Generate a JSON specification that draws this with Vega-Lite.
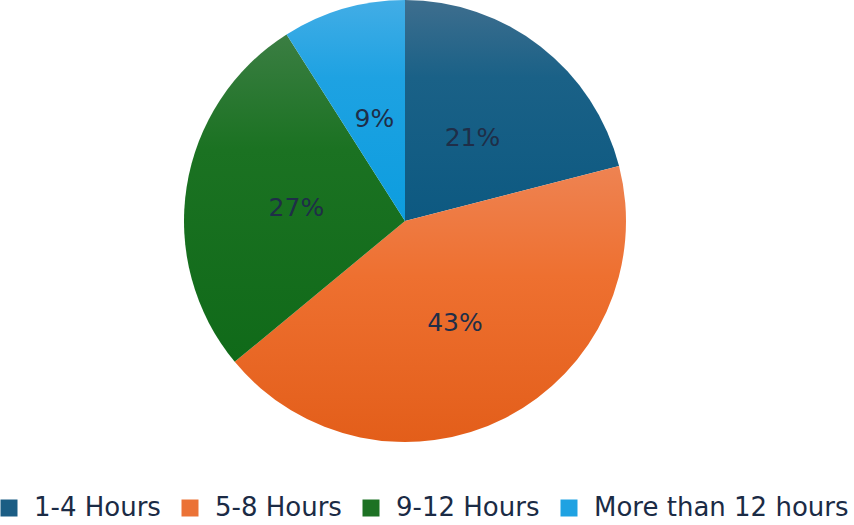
{
  "$schema": "https://vega.github.io/schema/vega-lite/v6.json",
  "width": 810,
  "height": 442,
  "autosize": {"type": "none"},
  "padding": {"left": 0, "top": 0, "right": 44, "bottom": 83},
  "background": "white",
  "config": {"view": {"stroke": null}, "font": "DejaVu Sans"},
  "data": {
    "values": [
      {"category": "1-4 Hours", "value": 21, "order": 1},
      {"category": "5-8 Hours", "value": 43, "order": 2},
      {"category": "9-12 Hours", "value": 27, "order": 3},
      {"category": "More than 12 hours", "value": 9, "order": 4}
    ]
  },
  "transform": [
    {"stack": "value", "groupby": [], "sort": [{"field": "order"}], "as": ["v0", "v1"]}
  ],
  "layer": [
    {
      "mark": {"type": "arc", "outerRadius": 221, "opacity": 0},
      "encoding": {
        "theta": {"field": "value", "type": "quantitative", "stack": true, "scale": {"domain": [0, 100]}},
        "order": {"field": "order", "type": "quantitative"},
        "color": {
          "field": "category",
          "type": "nominal",
          "sort": ["1-4 Hours", "5-8 Hours", "9-12 Hours", "More than 12 hours"],
          "scale": {
            "domain": ["1-4 Hours", "5-8 Hours", "9-12 Hours", "More than 12 hours"],
            "range": ["#1b5d84", "#eb7236", "#1d7224", "#1fa2e2"]
          },
          "legend": {
            "orient": "none",
            "legendX": -4,
            "legendY": 495,
            "padding": 0,
            "direction": "horizontal",
            "title": null,
            "symbolType": "square",
            "symbolSize": 289,
            "symbolStrokeWidth": 0,
            "symbolOpacity": 1,
            "labelFontSize": 26,
            "labelColor": "#1b2b45",
            "labelFont": "DejaVu Sans",
            "labelLimit": 400,
            "columnPadding": 16,
            "labelOffset": 12
          }
        }
      }
    },
    {
      "transform": [{"filter": "datum.category === '1-4 Hours'"}],
      "mark": {"type": "arc", "outerRadius": 221, "fill": {"gradient": "linear", "x1": 0, "y1": 0, "x2": 0, "y2": 1, "stops": [{"offset": 0, "color": "#3e6e8e"}, {"offset": 0.35, "color": "#1a6187"}, {"offset": 1, "color": "#0d5981"}]}},
      "encoding": {
        "theta": {"field": "v0", "type": "quantitative"},
        "theta2": {"field": "v1"}
      }
    },
    {
      "transform": [{"filter": "datum.category === '5-8 Hours'"}],
      "mark": {"type": "arc", "outerRadius": 221, "fill": {"gradient": "linear", "x1": 0, "y1": 0, "x2": 0, "y2": 1, "stops": [{"offset": 0, "color": "#ee8352"}, {"offset": 0.4, "color": "#ee7030"}, {"offset": 1, "color": "#e35e1a"}]}},
      "encoding": {
        "theta": {"field": "v0", "type": "quantitative"},
        "theta2": {"field": "v1"}
      }
    },
    {
      "transform": [{"filter": "datum.category === '9-12 Hours'"}],
      "mark": {"type": "arc", "outerRadius": 221, "fill": {"gradient": "linear", "x1": 0, "y1": 0, "x2": 0, "y2": 1, "stops": [{"offset": 0, "color": "#3b7e43"}, {"offset": 0.35, "color": "#1b7222"}, {"offset": 1, "color": "#106a19"}]}},
      "encoding": {
        "theta": {"field": "v0", "type": "quantitative"},
        "theta2": {"field": "v1"}
      }
    },
    {
      "transform": [{"filter": "datum.category === 'More than 12 hours'"}],
      "mark": {"type": "arc", "outerRadius": 221, "fill": {"gradient": "linear", "x1": 0, "y1": 0, "x2": 0, "y2": 1, "stops": [{"offset": 0, "color": "#42ade6"}, {"offset": 0.35, "color": "#1ea2e2"}, {"offset": 1, "color": "#0c9ddf"}]}},
      "encoding": {
        "theta": {"field": "v0", "type": "quantitative"},
        "theta2": {"field": "v1"}
      }
    },
    {
      "mark": {"type": "text", "radius": 110, "fontSize": 25, "dy": 4, "color": "#1f2e48", "font": "DejaVu Sans"},
      "encoding": {
        "theta": {"field": "value", "type": "quantitative", "stack": true},
        "order": {"field": "order", "type": "quantitative"},
        "text": {"field": "label", "type": "nominal"}
      },
      "transform": [{"calculate": "datum.value + '%'", "as": "label"}]
    }
  ]
}
